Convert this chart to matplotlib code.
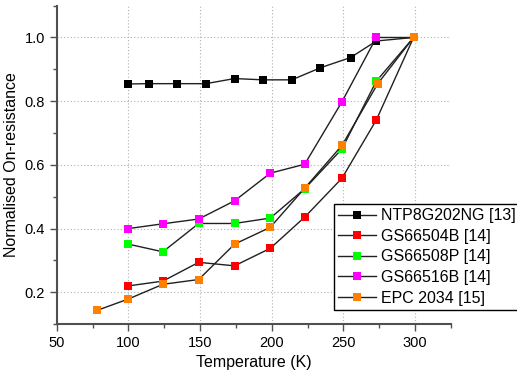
import matplotlib.pyplot as plt
from matplotlib.ticker import MultipleLocator

plt.rcParams['font.family'] = ['Liberation Sans', 'DejaVu Sans']

# data
t_ntp = [100, 114, 134, 154, 174, 194, 214, 234, 255, 273, 299]
r_ntp = [0.854, 0.855, 0.855, 0.855, 0.871, 0.867, 0.867, 0.905, 0.937, 0.989, 1.0]

t_gs = [100, 124, 149, 174, 199, 223, 249, 273, 299]
r_504 = [0.220, 0.235, 0.294, 0.283, 0.338, 0.436, 0.558, 0.741, 1.0]
r_508 = [0.351, 0.327, 0.416, 0.416, 0.433, 0.525, 0.650, 0.863, 1.0]
r_516 = [0.400, 0.415, 0.430, 0.487, 0.574, 0.602, 0.798, 1.0, 1.0]

t_epc = [78, 100, 124, 149, 174, 199, 223, 249, 274, 299]
r_epc = [0.143, 0.179, 0.225, 0.240, 0.351, 0.404, 0.527, 0.661, 0.855, 1.0]

series = [
    ("NTP8G202NG [13]", t_ntp, r_ntp, "black"),
    ("GS66504B [14]", t_gs, r_504, "#ff0000"),
    ("GS66508P [14]", t_gs, r_508, "#00ff00"),
    ("GS66516B [14]", t_gs, r_516, "#ff00ff"),
    ("EPC 2034 [15]", t_epc, r_epc, "#ff8000"),
]

fig = plt.figure(figsize=(5.17, 3.76), dpi=100)
ax = fig.add_axes([0.110, 0.138, 0.762, 0.847])

for label, x, y, c in series:
    ax.plot(x, y, color="#202020", lw=1.0, marker="s", markersize=6,
            markerfacecolor=c, markeredgewidth=0, label=label)

ax.set_xlim(50, 325)
ax.set_ylim(0.1, 1.1)
ax.xaxis.set_major_locator(MultipleLocator(50))
ax.xaxis.set_minor_locator(MultipleLocator(25))
ax.yaxis.set_major_locator(MultipleLocator(0.2))
ax.yaxis.set_minor_locator(MultipleLocator(0.1))
ax.set_yticks([0.2, 0.4, 0.6, 0.8, 1.0])
ax.set_yticklabels(["0.2", "0.4", "0.6", "0.8", "1.0"])

ax.grid(True, which="major", linestyle=(0, (1, 2)), color="#b0b0b0", lw=0.8)
ax.set_axisbelow(True)

for s in ["top", "right"]:
    ax.spines[s].set_visible(False)
for s in ["left", "bottom"]:
    ax.spines[s].set_color("#505050")
    ax.spines[s].set_linewidth(1.5)

ax.tick_params(which="major", direction="out", length=5, width=1, color="#505050", labelsize=10.5)
ax.tick_params(which="minor", direction="out", length=3, width=1, color="#505050")

ax.set_xlabel("Temperature (K)", fontsize=11.5)
ax.set_ylabel("Normalised On-resistance", fontsize=11.5)

leg = ax.legend(loc="upper left", bbox_to_anchor=(0.646, 0.457), bbox_transform=fig.transFigure,
                fontsize=11.5, frameon=True, fancybox=False, framealpha=1, edgecolor="black",
                borderaxespad=0, borderpad=0.25, labelspacing=0.35, handlelength=2.4,
                handletextpad=0.3)
leg.get_frame().set_linewidth(1.0)

fig.savefig("out.png", dpi=100)
